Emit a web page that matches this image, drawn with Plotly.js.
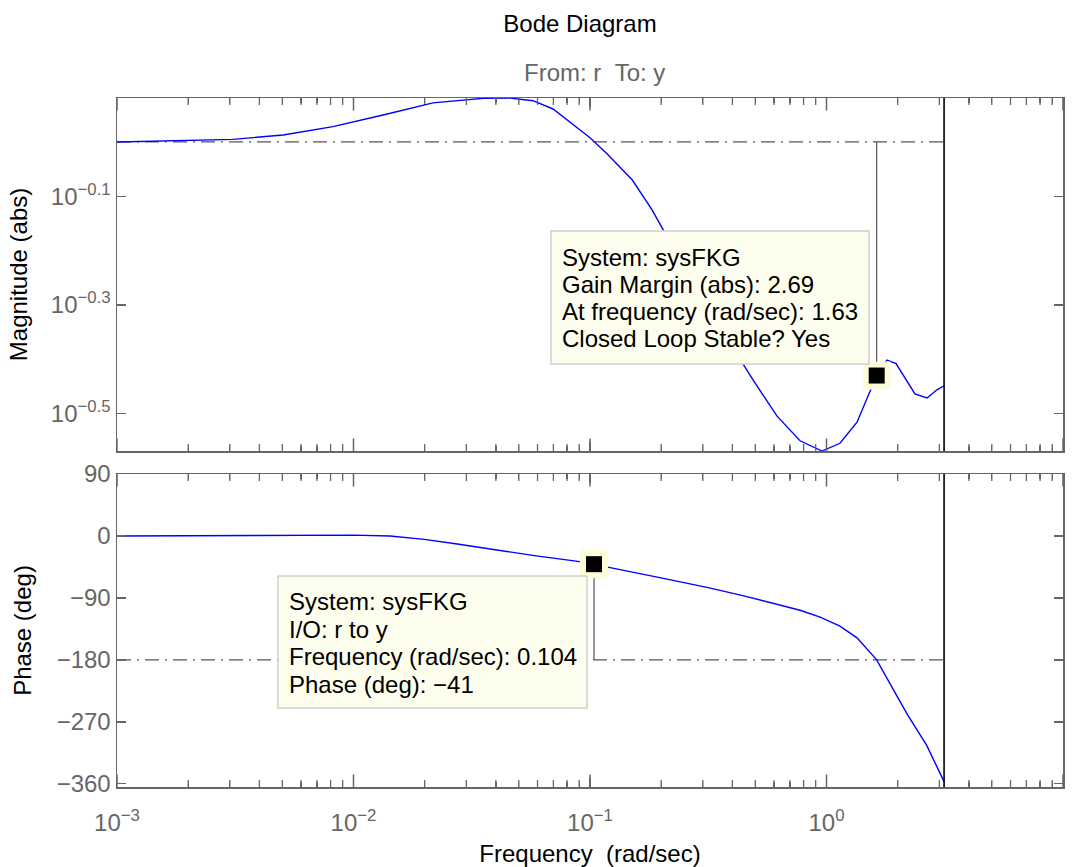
<!DOCTYPE html>
<html><head><meta charset="utf-8">
<script src="https://cdn.plot.ly/plotly-3.0.1.min.js"></script>
<style>html,body{margin:0;padding:0;background:#fff}</style>
</head><body><div id="chart" style="width:1079px;height:867px"></div>
<script>
// ---- data ----
const magFreq  = [0.001, 0.001626, 0.00309, 0.00504, 0.00818, 0.01334, 0.02168, 0.0353, 0.0459, 0.0574, 0.0698, 0.0908, 0.100, 0.118, 0.151, 0.183, 0.204, 0.444, 0.489, 0.618, 0.773, 0.957, 1.140, 1.346, 1.63, 1.803, 1.968, 2.366, 2.661, 2.931, 3.1416];
const magValue = [1.000, 1.004, 1.011, 1.030, 1.067, 1.121, 1.180, 1.203, 1.204, 1.191, 1.150, 1.052, 1.018, 0.951, 0.851, 0.750, 0.689, 0.390, 0.365, 0.313, 0.282, 0.270, 0.279, 0.305, 0.3717, 0.397, 0.391, 0.344, 0.338, 0.350, 0.356];
const phaseFreq  = [0.001, 0.00316, 0.00631, 0.01, 0.01426, 0.01995, 0.0279, 0.0408, 0.0592, 0.0889, 0.104, 0.1216, 0.1995, 0.316, 0.447, 0.618, 0.773, 0.94, 1.14, 1.346, 1.496, 1.63, 2.042, 2.203, 2.649, 3.1416];
const phaseValue = [0, 0.7, 1.4, 1.2, 0, -5, -12, -21, -29, -37, -41, -46, -61, -75, -87, -100, -108, -118, -131, -148, -166, -180, -240, -260, -304, -357];

const nyquistFreq = 3.1416;
const gainMarginFreq = 1.63;
const gainMarginAbs = 2.69;
const phaseMarkFreq = 0.104;
const phaseMarkDeg = -41;
const unityGain = 1;
const phaseCross = -180;

const decadeTicks  = [0.001, 0.01, 0.1, 1, 10];
const decadeLabels = ['10<sup>−3</sup>', '10<sup>−2</sup>', '10<sup>−1</sup>', '10<sup>0</sup>', '10<sup>1</sup>'];
const magTicks      = [Math.pow(10, -0.5), Math.pow(10, -0.3), Math.pow(10, -0.1)];
const magTickLabels = ['10<sup>−0.5</sup>', '10<sup>−0.3</sup>', '10<sup>−0.1</sup>'];
const phaseTicks      = [-360, -270, -180, -90, 0, 90];
const phaseTickLabels = ['−360', '−270', '−180', '−90', '0', '90'];

const box1Lines = ['System: sysFKG', 'Gain Margin (abs): 2.69', 'At frequency (rad/sec): 1.63', 'Closed Loop Stable? Yes'];
const box2Lines = ['System: sysFKG', 'I/O: r to y', 'Frequency (rad/sec): 0.104', 'Phase (deg): −41'];

// ---- layout helpers ----
const FONT = 'Liberation Sans, Arial, Helvetica, sans-serif';
const FS = 24;
const GRAY = '#666666';
const magRange = [-0.5686, 0.0809];
const phaseRange = [-364.8, 90];

// minor log ticks (2..9 in each decade)
const minorTicks = [];
for (let e = -3; e < 1; e++) for (let k = 2; k <= 9; k++) minorTicks.push(k * Math.pow(10, e));

function xAxis(extra) {
  return Object.assign({
    type: 'log', range: [-3, 1], showline: true, linecolor: GRAY, linewidth: 1.5,
    mirror: 'ticks', ticks: 'inside', ticklen: 9, tickwidth: 1.5, tickcolor: GRAY,
    tickmode: 'array', tickvals: decadeTicks, ticktext: decadeLabels,
    showgrid: false, zeroline: false,
    tickfont: {family: FONT, size: FS, color: GRAY},
    minor: {ticks: 'inside', ticklen: 5, tickwidth: 1.3, tickcolor: GRAY, dtick: 'D1', showgrid: false}
  }, extra);
}
function yAxis(extra) {
  return Object.assign({
    showline: true, linecolor: GRAY, linewidth: 1.5, mirror: 'ticks',
    ticks: 'inside', ticklen: 9, tickwidth: 1.5, tickcolor: GRAY,
    tickmode: 'array', showgrid: false, zeroline: false,
    tickfont: {family: FONT, size: FS, color: GRAY}
  }, extra);
}

// tick marks along the frequency axes, drawn as clipped line markers at the frame edges
function tickMarks(vals, yEdge, xa, ya, size, width) {
  const xs = [], ys = [];
  vals.forEach(v => { xs.push(v, v); ys.push(yEdge[0], yEdge[1]); });
  return {x: xs, y: ys, xaxis: xa, yaxis: ya, mode: 'markers', cliponaxis: true, hoverinfo: 'skip',
    marker: {symbol: 'line-ns', size: size, color: GRAY, line: {color: GRAY, width: width}}};
}
const magEdges = [Math.pow(10, magRange[0]), Math.pow(10, magRange[1])];

const dashDot = '14px,6px,2px,6px';
const traces = [
  tickMarks(decadeTicks, magEdges, 'x', 'y', 18, 1.5),
  tickMarks(minorTicks, magEdges, 'x', 'y', 10, 1.3),
  tickMarks(decadeTicks, phaseRange, 'x2', 'y2', 18, 1.5),
  tickMarks(minorTicks, phaseRange, 'x2', 'y2', 10, 1.3),

  {x: [magFreq[0], nyquistFreq], y: [unityGain, unityGain], xaxis: 'x', yaxis: 'y', mode: 'lines', line: {color: '#555', width: 1.2, dash: dashDot}},
  {x: magFreq, y: magValue, xaxis: 'x', yaxis: 'y', mode: 'lines', line: {color: '#0000ff', width: 1.4}},
  {x: [gainMarginFreq, gainMarginFreq], y: [1 / gainMarginAbs, unityGain], xaxis: 'x', yaxis: 'y', mode: 'lines', line: {color: '#555', width: 1.2}},
  {x: [nyquistFreq, nyquistFreq], y: magEdges, xaxis: 'x', yaxis: 'y', mode: 'lines', line: {color: '#000', width: 1.6}},
  {x: [gainMarginFreq], y: [1 / gainMarginAbs], xaxis: 'x', yaxis: 'y', mode: 'markers', marker: {symbol: 'square', size: 28, color: '#fcfcd8', line: {width: 0}}},
  {x: [gainMarginFreq], y: [1 / gainMarginAbs], xaxis: 'x', yaxis: 'y', mode: 'markers', marker: {symbol: 'square', size: 16, color: '#000', line: {width: 0}}},

  {x: [phaseFreq[0], nyquistFreq], y: [phaseCross, phaseCross], xaxis: 'x2', yaxis: 'y2', mode: 'lines', line: {color: '#555', width: 1.2, dash: dashDot}},
  {x: phaseFreq, y: phaseValue, xaxis: 'x2', yaxis: 'y2', mode: 'lines', line: {color: '#0000ff', width: 1.4}},
  {x: [phaseMarkFreq, phaseMarkFreq], y: [phaseMarkDeg, phaseCross], xaxis: 'x2', yaxis: 'y2', mode: 'lines', line: {color: '#555', width: 1.2}},
  {x: [nyquistFreq, nyquistFreq], y: phaseRange, xaxis: 'x2', yaxis: 'y2', mode: 'lines', line: {color: '#000', width: 1.6}},
  {x: [phaseMarkFreq], y: [phaseMarkDeg], xaxis: 'x2', yaxis: 'y2', mode: 'markers', marker: {symbol: 'square', size: 28, color: '#fcfcd8', line: {width: 0}}},
  {x: [phaseMarkFreq], y: [phaseMarkDeg], xaxis: 'x2', yaxis: 'y2', mode: 'markers', marker: {symbol: 'square', size: 16, color: '#000', line: {width: 0}}}
];

// pixel -> paper helpers (plot area 117..1063 x 98..787)
const px = v => (v - 117) / 946;
const py = v => (787 - v) / 689;

const annotations = [
  {text: 'From: r\u00a0\u00a0To: y', xref: 'paper', yref: 'paper', x: px(594), y: py(73), xanchor: 'center', yanchor: 'middle', showarrow: false, font: {family: FONT, size: FS, color: GRAY}}
];
const box1Y = [257, 284.3, 311.6, 338.9];
box1Lines.forEach((t, i) => annotations.push({text: t, xref: 'paper', yref: 'paper', x: px(560), y: py(box1Y[i]), xanchor: 'left', yanchor: 'middle', showarrow: false, font: {family: FONT, size: FS, color: '#000'}}));
const box2Y = [601.5, 629, 656.5, 684];
box2Lines.forEach((t, i) => annotations.push({text: t, xref: 'paper', yref: 'paper', x: px(287), y: py(box2Y[i]), xanchor: 'left', yanchor: 'middle', showarrow: false, font: {family: FONT, size: FS, color: '#000'}}));

const shapes = [
  {type: 'rect', xref: 'paper', yref: 'paper', x0: px(551), x1: px(869), y0: py(364), y1: py(231), fillcolor: '#fefeee', line: {color: '#cfcfcf', width: 1.5}, layer: 'above'},
  {type: 'rect', xref: 'paper', yref: 'paper', x0: px(278), x1: px(587), y0: py(708), y1: py(576), fillcolor: '#fefeee', line: {color: '#cfcfcf', width: 1.5}, layer: 'above'}
];

const layout = {
  width: 1079, height: 867,
  margin: {l: 117, r: 16, t: 98, b: 80, pad: 0},
  paper_bgcolor: '#fff', plot_bgcolor: '#fff',
  showlegend: false,
  font: {family: FONT, size: FS, color: '#000'},
  title: {text: 'Bode Diagram', x: 580 / 1079, xref: 'container', xanchor: 'center', y: 1 - 24 / 867, yref: 'container', yanchor: 'middle', font: {family: FONT, size: FS, color: '#000'}},
  xaxis: xAxis({domain: [0, 1], anchor: 'y', showticklabels: false}),
  yaxis: yAxis({type: 'log', domain: [py(451), 1], anchor: 'x', range: magRange, tickvals: magTicks, ticktext: magTickLabels,
    title: {text: 'Magnitude (abs)', font: {family: FONT, size: FS, color: '#000'}, standoff: 16}}),
  xaxis2: xAxis({domain: [0, 1], anchor: 'y2', ticklabelstandoff: 14,
    title: {text: 'Frequency\u00a0\u00a0(rad/sec)', font: {family: FONT, size: FS, color: '#000'}, standoff: 14}}),
  yaxis2: yAxis({domain: [0, py(474)], anchor: 'x2', range: phaseRange, tickvals: phaseTicks, ticktext: phaseTickLabels,
    title: {text: 'Phase (deg)', font: {family: FONT, size: FS, color: '#000'}, standoff: 18}}),
  annotations: annotations,
  shapes: shapes
};

Plotly.newPlot('chart', traces, layout, {displayModeBar: false, staticPlot: true});
</script>
</body></html>
